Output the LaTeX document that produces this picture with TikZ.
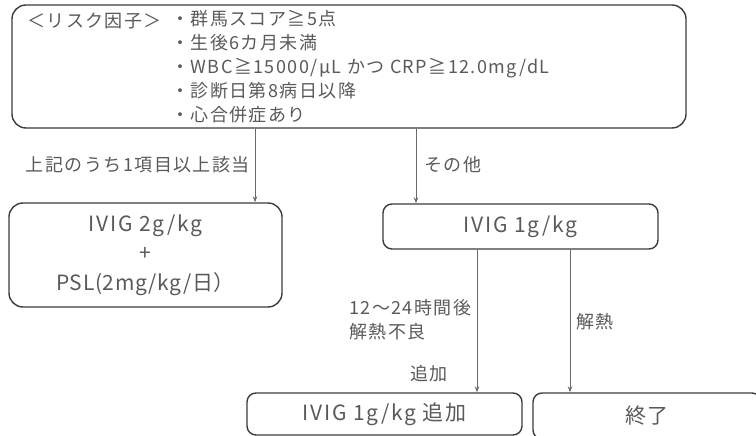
\documentclass[tikz,border=0pt]{standalone}
\usepackage{fontspec}
\setmainfont{Noto Sans CJK JP}[LetterSpace=8]
\usetikzlibrary{arrows.meta}
\definecolor{txt}{HTML}{5A5A5A}
\definecolor{edge}{HTML}{3C3C3C}
\definecolor{arrc}{HTML}{6A6A6A}
\tikzset{
  box/.style={draw=edge, line width=1.4pt, rounded corners=14pt, inner sep=0pt, text=txt},
  lbl/.style={inner sep=0pt, text=txt, font=\fontsize{18}{20}\selectfont},
  big/.style={font=\fontsize{21}{24}\selectfont},
  arr/.style={draw=arrc, line width=0.8pt, -{Stealth[length=6pt,width=4.5pt]}},
}
\begin{document}
\begin{tikzpicture}[x=1pt,y=-1pt]
\clip (0,0) rectangle (756,436);
\fill[white] (0,0) rectangle (756,436);
% boxes
\node[box, minimum width=674pt, minimum height=123pt] (top) at (349,66.5) {};
\node[box, minimum width=273pt, minimum height=104pt, align=center,
      font=\fontsize{21}{29.5}\selectfont] (lbox) at (145.5,255)
      {IVIG 2g/kg\\+\\{\addfontfeature{LetterSpace=3}PSL(2mg/kg/日）}};
\node[box, big, minimum width=275pt, minimum height=45pt, rounded corners=9pt] (mid) at (520.5,226.5) {IVIG 1g/kg};
\node[box, big, minimum width=275pt, minimum height=42pt, rounded corners=9pt] (add) at (384.5,414) {IVIG 1g/kg 追加};
\node[box, big, minimum width=228pt, minimum height=46pt, rounded corners=9pt] (fin) at (647,416) {終了};
% top box texts
\node[lbl, anchor=west] (rf) at (27,21) {＜リスク因子＞};
\node[lbl, anchor=north west, align=left,
      font=\fontsize{18}{23.8}\selectfont] (items) at (171,10.5)
  {・群馬スコア≧5点\\・生後6カ月未満\\・WBC≧15000/μL かつ CRP≧12.0mg/dL\\・診断日第8病日以降\\・心合併症あり};
% connectors
\coordinate (xa) at (255,0);
\coordinate (xb) at (416,0);
\coordinate (xc) at (477,0);
\coordinate (xd) at (570,0);
\draw[arr] (xa |- top.south) -- (xa |- lbox.north);
\draw[arr] (xb |- top.south) -- (xb |- mid.north);
\draw[arr] (xc |- mid.south) -- (xc |- add.north);
\draw[arr] (xd |- mid.south) -- (xd |- fin.north);
% labels
\node[lbl, anchor=east] (l1) at (250,165) {上記のうち1項目以上該当};
\node[lbl, anchor=west] (l2) at (424,165) {その他};
\node[lbl, anchor=west, align=left, font=\fontsize{18}{24}\selectfont] (l3) at (349,320) {12～24時間後\\解熱不良};
\node[lbl, anchor=east] (l4) at (448,374) {追加};
\node[lbl, anchor=west] (l5) at (576,322) {解熱};
\end{tikzpicture}
\end{document}
